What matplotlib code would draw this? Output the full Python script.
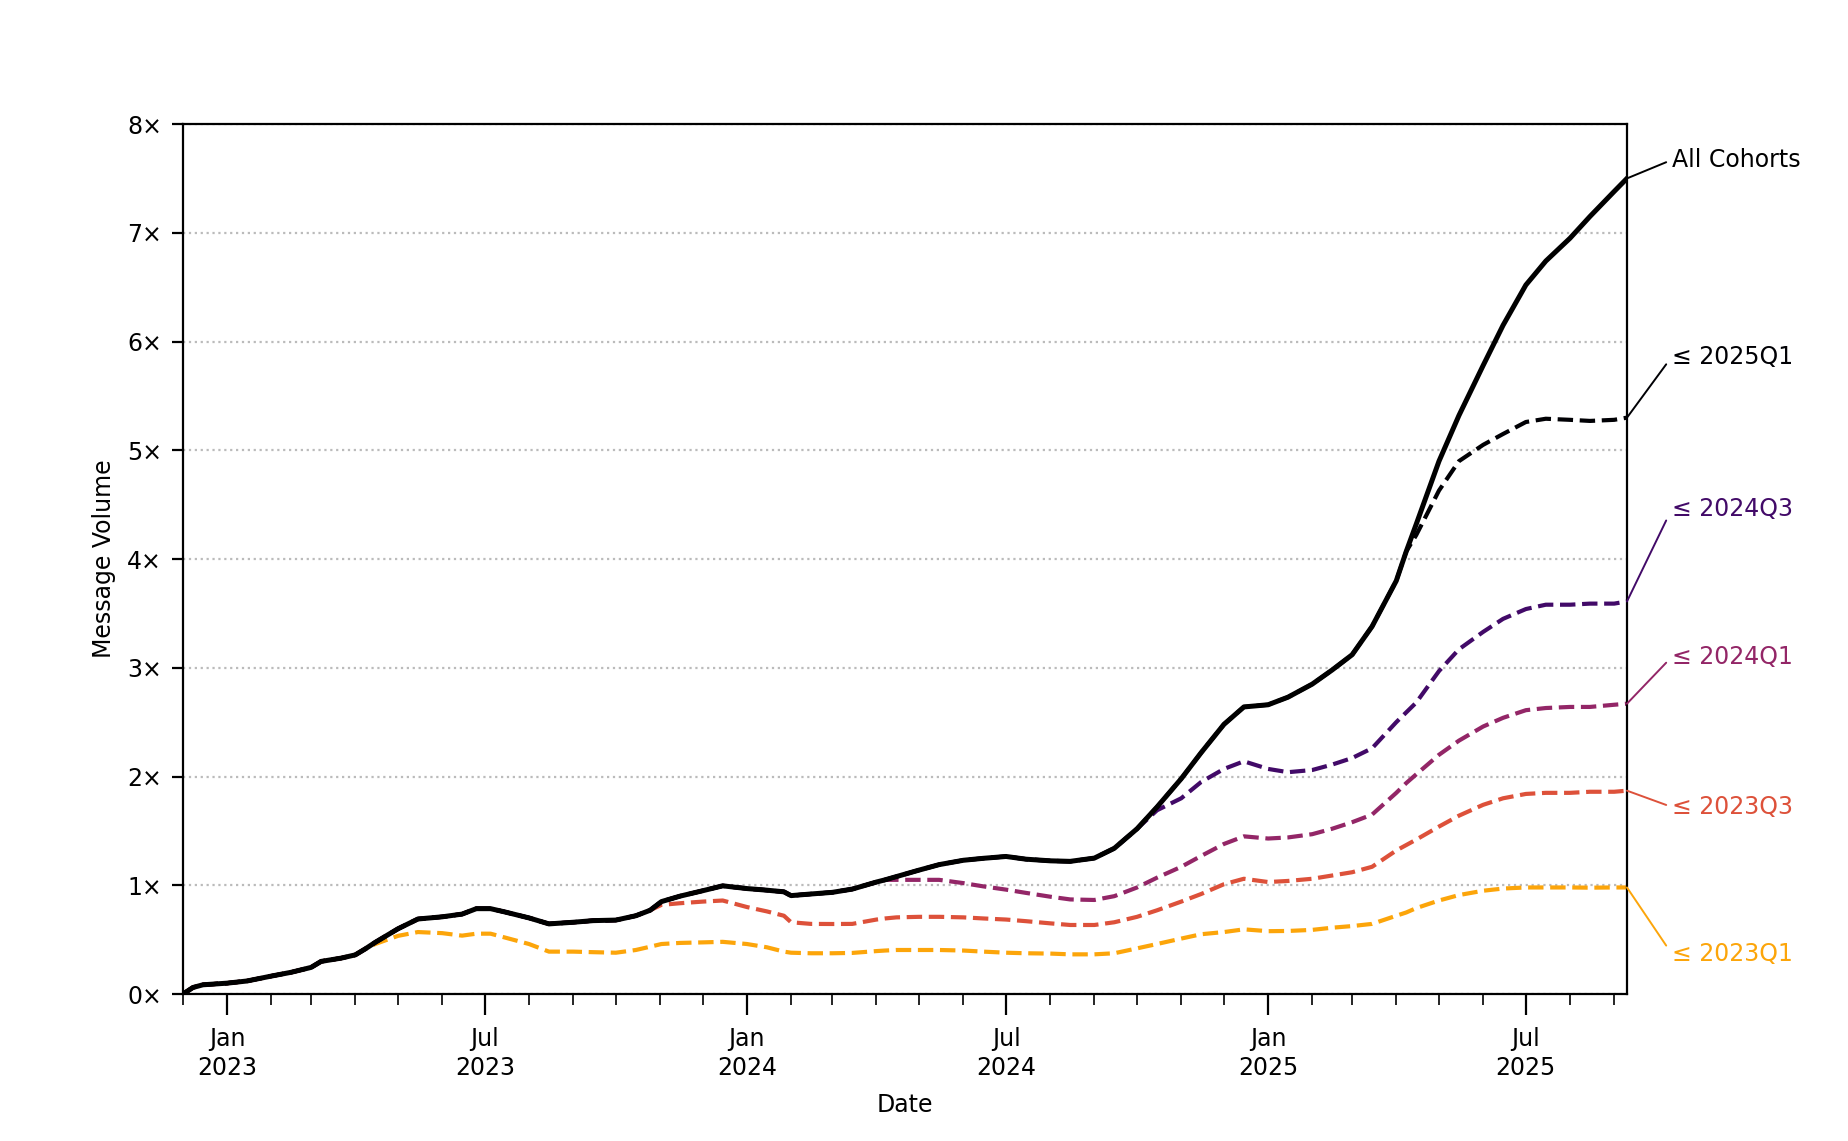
import matplotlib
matplotlib.use("Agg")
import matplotlib.pyplot as plt
import matplotlib.dates as mdates
import pandas as pd
import numpy as np

# ---------------- data ----------------
dates = [
    "2022-12-01", "2022-12-08", "2022-12-15",
    "2023-01-01", "2023-01-15", "2023-02-01", "2023-02-15", "2023-03-01", "2023-03-08", "2023-03-22",
    "2023-04-01", "2023-04-08", "2023-04-15", "2023-05-01", "2023-05-15", "2023-06-01", "2023-06-15",
    "2023-06-25", "2023-07-05", "2023-07-15", "2023-08-01", "2023-08-15", "2023-09-01", "2023-09-15",
    "2023-10-01", "2023-10-15", "2023-10-25", "2023-11-02", "2023-11-15", "2023-12-01", "2023-12-15",
    "2024-01-01", "2024-01-15", "2024-01-27", "2024-02-01", "2024-02-15", "2024-03-01", "2024-03-15",
    "2024-04-01", "2024-04-07", "2024-04-15", "2024-05-01", "2024-05-15", "2024-06-01", "2024-06-15",
    "2024-07-01", "2024-07-15", "2024-08-01", "2024-08-15", "2024-09-01", "2024-09-15", "2024-10-01",
    "2024-10-15", "2024-11-01", "2024-11-15", "2024-12-01", "2024-12-15",
    "2025-01-01", "2025-01-15", "2025-02-01", "2025-02-15", "2025-03-01", "2025-03-15", "2025-04-01",
    "2025-04-08", "2025-04-15", "2025-05-01", "2025-05-15", "2025-06-01", "2025-06-15", "2025-07-01",
    "2025-07-15", "2025-08-01", "2025-08-15", "2025-09-01", "2025-09-10",
]

all_cohorts = [
    0.00, 0.06, 0.085,
    0.10, 0.12, 0.165, 0.20, 0.245, 0.30, 0.33, 0.36, 0.415, 0.475, 0.60, 0.69, 0.71, 0.735,
    0.785, 0.785, 0.755, 0.70, 0.645, 0.66, 0.675, 0.68, 0.72, 0.77, 0.85, 0.90, 0.95, 0.995,
    0.97, 0.955, 0.94, 0.905, 0.92, 0.935, 0.965, 1.03, 1.05, 1.08, 1.14, 1.19, 1.23, 1.248,
    1.265, 1.24, 1.225, 1.22, 1.25, 1.34, 1.52, 1.72, 1.98, 2.22, 2.48, 2.64,
    2.66, 2.73, 2.85, 2.98, 3.12, 3.38, 3.80, 4.07, 4.32, 4.90, 5.32, 5.78, 6.15, 6.52,
    6.74, 6.95, 7.15, 7.38, 7.50,
]

# cohort values after they separate from the total (before that they equal the total)
cohort_2023q1_start = "2023-04-15"
cohort_2023q1 = [
    0.46, 0.535, 0.57, 0.56, 0.537, 0.555, 0.555, 0.52, 0.46, 0.39, 0.39, 0.385, 0.38, 0.405,
    0.435, 0.46, 0.47, 0.475, 0.48,
    0.46, 0.43, 0.39, 0.38, 0.375, 0.375, 0.378, 0.395, 0.40, 0.405, 0.405, 0.405, 0.40, 0.39,
    0.38, 0.375, 0.372, 0.365, 0.365, 0.375, 0.42, 0.46, 0.51, 0.55, 0.57, 0.595,
    0.578, 0.58, 0.59, 0.61, 0.625, 0.645, 0.72, 0.75, 0.79, 0.86, 0.91, 0.95, 0.97, 0.98,
    0.98, 0.98, 0.978, 0.98, 0.98,
]

cohort_2023q3_start = "2023-11-02"
cohort_2023q3 = [
    0.82, 0.835, 0.85, 0.86,
    0.80, 0.76, 0.72, 0.66, 0.645, 0.644, 0.645, 0.685, 0.695, 0.705, 0.71, 0.71, 0.705, 0.695,
    0.685, 0.67, 0.65, 0.635, 0.635, 0.66, 0.71, 0.77, 0.85, 0.92, 1.01, 1.06,
    1.03, 1.04, 1.06, 1.09, 1.12, 1.17, 1.32, 1.37, 1.42, 1.54, 1.64, 1.74, 1.80, 1.84,
    1.85, 1.85, 1.86, 1.86, 1.87,
]

cohort_2024q1_start = "2024-04-15"
cohort_2024q1 = [
    1.05, 1.05, 1.05, 1.02, 0.99, 0.96, 0.93, 0.895, 0.87, 0.865, 0.90, 0.98, 1.07, 1.17,
    1.27, 1.38, 1.45,
    1.43, 1.44, 1.47, 1.52, 1.58, 1.65, 1.85, 1.94, 2.02, 2.20, 2.33, 2.46, 2.54, 2.61,
    2.63, 2.64, 2.64, 2.66, 2.67,
]

cohort_2024q3_start = "2024-10-15"
cohort_2024q3 = [
    1.69, 1.80, 1.95, 2.07, 2.14,
    2.07, 2.04, 2.06, 2.11, 2.17, 2.26, 2.50, 2.59, 2.68, 2.97, 3.17, 3.33, 3.45, 3.54,
    3.58, 3.58, 3.59, 3.59, 3.61,
]

cohort_2025q1_start = "2025-04-15"
cohort_2025q1 = [4.22, 4.63, 4.90, 5.05, 5.15, 5.26, 5.29, 5.28, 5.27, 5.28, 5.30]

labels = ["All Cohorts", "≤ 2025Q1", "≤ 2024Q3", "≤ 2024Q1", "≤ 2023Q3", "≤ 2023Q1"]
label_y = [7.67, 5.86, 4.46, 3.10, 1.72, 0.37]
y_ticks = [0, 1, 2, 3, 4, 5, 6, 7, 8]


def full_series(start, own):
    k = dates.index(start)
    vals = all_cohorts[:k] + own
    assert len(vals) == len(dates), (start, len(vals), len(dates))
    return vals


x = pd.to_datetime(dates)
cohorts = [
    full_series(cohort_2025q1_start, cohort_2025q1),
    full_series(cohort_2024q3_start, cohort_2024q3),
    full_series(cohort_2024q1_start, cohort_2024q1),
    full_series(cohort_2023q3_start, cohort_2023q3),
    full_series(cohort_2023q1_start, cohort_2023q1),
]
colors = [plt.get_cmap("inferno")(v) for v in np.linspace(0, 0.8, 5)]

# ---------------- figure ----------------
plt.rcParams["font.family"] = ["DejaVu Sans"]
plt.rcParams["font.size"] = 8.5
fig = plt.figure(figsize=(9.24, 5.705), dpi=200)
ax = fig.add_axes([0.099, 0.1288, 0.7814, 0.7625])

for vals, c in zip(cohorts[::-1], colors[::-1]):
    ax.plot(x, vals, color=c, lw=1.5, ls="--", zorder=2)
ax.plot(x, all_cohorts, color="black", lw=1.8, zorder=3)

ax.set_xlim(x[0], x[-1])
ax.set_ylim(0, 8)
ax.set_yticks(y_ticks)
ax.set_yticklabels([f"{v}×" for v in y_ticks])
ax.yaxis.grid(True, ls=":", color="#bbbbbb", lw=0.8)
ax.set_axisbelow(True)

ax.xaxis.set_major_locator(mdates.MonthLocator(bymonth=[1, 7]))
ax.xaxis.set_major_formatter(mdates.DateFormatter("%b\n%Y"))
ax.xaxis.set_minor_locator(mdates.MonthLocator())
ax.tick_params(axis="x", which="major", length=7.5, pad=4.5)
ax.tick_params(axis="x", which="minor", length=4)
ax.tick_params(axis="y", length=4)
for lab in ax.get_xticklabels():
    lab.set_horizontalalignment("center")
    lab.set_linespacing(1.25)

ax.set_xlabel("Date", labelpad=4.5)
ax.set_ylabel("Message Volume")

series_end = [all_cohorts[-1]] + [c[-1] for c in cohorts]
series_col = ["black"] + colors
for lab, ly, yend, c in zip(labels, label_y, series_end, series_col):
    ax.annotate(lab, xy=(x[-1], yend), xycoords="data",
                xytext=(1.031, ly), textcoords=("axes fraction", "data"),
                ha="left", va="center", color=c, fontsize=8.5,
                annotation_clip=False,
                arrowprops=dict(arrowstyle="-", color=c, lw=0.7,
                                shrinkA=0, shrinkB=0, relpos=(0, 0.5)))

fig.savefig("out.png", dpi=200)
